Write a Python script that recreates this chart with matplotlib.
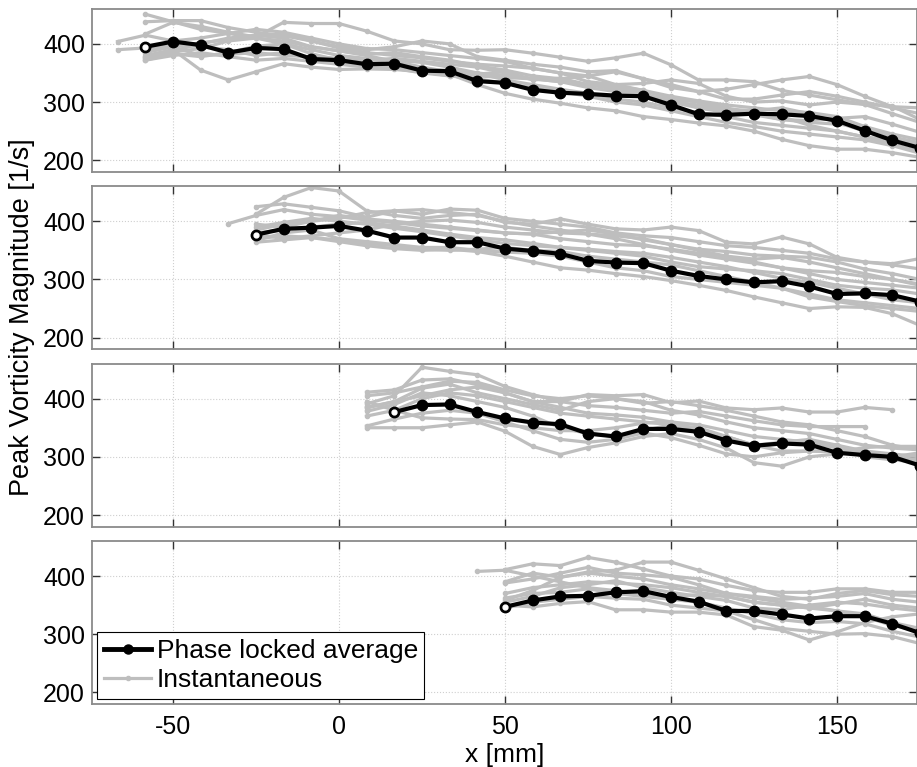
import numpy as np
import matplotlib.pyplot as plt

plt.rcParams['font.family'] = ['Liberation Sans', 'DejaVu Sans']
plt.rcParams['axes.unicode_minus'] = False

# streamwise stations [mm]
x_mm = [-66.7, -58.3, -50.0, -41.7, -33.3, -25.0, -16.7, -8.3, 0.0, 8.3, 16.7, 25.0, 33.3, 41.7,
        50.0, 58.3, 66.7, 75.0, 83.3, 91.7, 100.0, 108.3, 116.7, 125.0, 133.3, 141.7, 150.0,
        158.3, 166.7, 175.0]

# ---- panel 1 ----
avg1 = (-58.3, [395, 404, 398, 385, 393, 391, 374, 372, 365, 366, 354, 353, 336, 333, 321, 316, 314,
                311, 310, 295, 279, 278, 280, 279, 276, 268, 251, 234, 221])
inst1 = [
    (-58.3, [451, 438, 425, 418, 410, 405, 395, 388, 382, 385, 378, 372, 362, 355, 345, 340, 345, 352, 340, 325,
             318, 322, 330, 338, 344, 330, 310, 292, 290]),
    (-58.3, [438, 440, 440, 428, 420, 414, 405, 393, 385, 380, 376, 370, 365, 362, 358, 350, 335, 330, 332, 338,
             332, 310, 300, 302, 295, 300, 296, 280, 265]),
    (-58.3, [417, 437, 430, 420, 412, 437, 435, 435, 422, 405, 400, 390, 389, 390, 384, 377, 370, 376, 384, 364,
             338, 338, 335, 320, 312, 304, 296, 293, 270]),
    (-58.3, [377, 388, 400, 410, 415, 410, 395, 388, 380, 370, 360, 352, 345, 342, 340, 335, 325, 318, 310, 305,
             300, 290, 280, 270, 265, 262, 258, 240, 230]),
    (-58.3, [372, 383, 378, 385, 396, 400, 390, 380, 375, 372, 368, 360, 350, 338, 330, 322, 315, 305, 300, 290,
             282, 275, 265, 260, 255, 250, 240, 228, 215]),
    (-58.3, [380, 390, 355, 338, 352, 366, 360, 356, 357, 356, 352, 345, 340, 332, 325, 318, 310, 300, 295, 285,
             275, 265, 258, 250, 245, 240, 235, 225, 212]),
    (-58.3, [385, 395, 402, 407, 413, 417, 405, 395, 390, 395, 405, 400, 378, 372, 365, 360, 352, 354, 340, 330,
             318, 305, 305, 312, 318, 310, 300, 290, 280]),
    (-58.3, [375, 386, 392, 405, 410, 400, 383, 372, 370, 366, 360, 348, 330, 315, 305, 298, 290, 285, 275, 270,
             264, 259, 250, 236, 225, 219, 219, 213, 205]),
    (-58.3, [390, 395, 380, 382, 385, 380, 378, 375, 372, 375, 370, 365, 360, 350, 340, 335, 330, 328, 320, 305,
             290, 282, 278, 270, 268, 272, 275, 262, 248]),
    (-66.7, [404, 415, 405, 410, 418, 425, 420, 410, 400, 392, 390, 385, 380, 375, 370, 358, 350, 345, 330, 320,
             310, 302, 295, 290, 285, 282, 275, 258, 245, 235]),
    (-66.7, [390, 393, 400, 395, 390, 380, 385, 375, 370, 366, 360, 355, 355, 350, 345, 340, 338, 330, 325, 315,
             300, 295, 288, 285, 290, 280, 265, 250, 235, 222]),
    (-58.3, [372, 380, 385, 378, 372, 375, 370, 365, 360, 358, 350, 345, 348, 352, 338, 341, 330, 322, 312, 300,
             290, 285, 280, 275, 260, 250, 240, 235, 228]),
]

# ---- panel 2 ----
avg2 = (-25.0, [377, 387, 389, 392, 384, 372, 372, 364, 364, 353, 349, 344, 332, 329, 328, 315, 306, 300, 295,
                297, 288, 275, 276, 273, 262])
inst2 = [
    (-25.0, [412, 441, 458, 452, 418, 410, 405, 410, 412, 398, 395, 404, 395, 387, 385, 390, 384, 364, 361, 373,
             361, 338, 330, 327, 336]),
    (-25.0, [425, 430, 424, 418, 407, 418, 412, 421, 419, 405, 400, 395, 390, 380, 375, 372, 365, 358, 355, 350,
             345, 335, 330, 325, 318]),
    (-25.0, [395, 390, 400, 410, 404, 400, 395, 390, 385, 380, 378, 370, 365, 360, 358, 352, 345, 340, 335, 338,
             330, 320, 310, 300, 292]),
    (-25.0, [378, 370, 375, 380, 385, 395, 400, 402, 398, 390, 385, 380, 378, 375, 370, 360, 350, 340, 330, 320,
             310, 300, 295, 290, 285]),
    (-25.0, [367, 380, 385, 370, 365, 360, 355, 355, 350, 347, 345, 340, 330, 320, 315, 305, 300, 295, 290, 285,
             275, 265, 260, 255, 250]),
    (-25.0, [364, 368, 372, 365, 358, 353, 350, 352, 348, 340, 330, 320, 316, 310, 305, 298, 290, 281, 270, 260,
             250, 253, 252, 241, 221]),
    (-25.0, [380, 385, 390, 395, 398, 392, 385, 378, 372, 368, 362, 355, 350, 345, 340, 330, 322, 318, 315, 310,
             300, 290, 285, 282, 275]),
    (-25.0, [370, 375, 372, 368, 362, 358, 352, 350, 352, 355, 350, 348, 340, 335, 330, 325, 315, 305, 295, 285,
             270, 262, 255, 250, 245]),
    (-25.0, [385, 395, 400, 405, 415, 418, 420, 415, 410, 400, 392, 385, 378, 370, 360, 350, 342, 335, 328, 320,
             315, 312, 305, 300, 290]),
    (-25.0, [390, 398, 405, 400, 395, 388, 382, 375, 368, 362, 358, 355, 352, 348, 345, 338, 330, 322, 312, 302,
             295, 285, 275, 265, 260]),
    (-33.3, [396, 410, 420, 412, 408, 402, 398, 392, 388, 384, 380, 378, 382, 385, 378, 368, 360, 352, 348, 342,
             340, 338, 330, 318, 310, 300]),
]

# ---- panel 3 ----
avg3 = (16.7, [377, 389, 390, 377, 366, 359, 356, 340, 335, 348, 348, 343, 328, 319, 323, 321, 307, 303, 300, 285])
inst3 = [
    (8.3, [411, 415, 432, 434, 424, 410, 395, 395, 407, 405, 407, 393, 396, 384, 381, 384, 377, 377, 385, 381]),
    (8.3, [391, 405, 454, 447, 441, 421, 407, 395, 388, 385, 380, 375, 378, 370, 362, 355, 352, 352, 352]),
    (8.3, [384, 395, 418, 425, 410, 400, 390, 380, 395, 400, 395, 380, 372, 360, 350, 345, 340, 330, 320, 315, 312]),
    (8.3, [370, 380, 400, 410, 405, 395, 385, 375, 370, 365, 360, 355, 345, 335, 320, 310, 310, 308, 316, 318, 318]),
    (8.3, [353, 365, 375, 380, 375, 360, 345, 330, 325, 330, 341, 333, 320, 305, 300, 307, 310, 310, 305, 300, 307]),
    (8.3, [378, 390, 410, 405, 395, 385, 370, 350, 340, 335, 345, 355, 350, 335, 320, 325, 330, 320, 305, 300, 295]),
    (8.3, [385, 395, 405, 415, 420, 410, 395, 385, 375, 372, 368, 360, 345, 330, 318, 322, 325, 315, 300, 295, 290]),
    (8.3, [350, 350, 350, 355, 360, 344, 318, 304, 316, 324, 335, 340, 330, 315, 290, 284, 300, 305, 310, 300, 290]),
    (8.3, [395, 380, 367, 365, 364, 355, 350, 345, 345, 350, 358, 360, 355, 345, 335, 330, 325, 320, 310, 305, 300]),
    (8.3, [405, 410, 420, 430, 428, 415, 405, 400, 405, 400, 392, 395, 388, 380, 370, 360, 355, 345, 335, 320, 312]),
]

# ---- panel 4 ----
avg4 = (50.0, [347, 358, 365, 366, 372, 374, 364, 356, 340, 340, 334, 327, 331, 331, 318, 302])
inst4 = [
    (50.0, [411, 421, 418, 432, 424, 412, 400, 395, 384, 375, 372, 372, 378, 378, 372, 372]),
    (50.0, [390, 405, 398, 407, 410, 424, 424, 410, 395, 380, 365, 360, 370, 375, 368, 365]),
    (50.0, [358, 375, 398, 405, 400, 395, 385, 378, 370, 365, 360, 362, 365, 370, 360, 355]),
    (50.0, [355, 365, 380, 385, 392, 380, 372, 365, 358, 345, 342, 350, 355, 352, 345, 340]),
    (50.0, [350, 347, 353, 356, 342, 342, 338, 338, 333, 313, 307, 290, 304, 320, 330, 335]),
    (50.0, [362, 370, 372, 378, 370, 365, 360, 355, 345, 335, 325, 320, 322, 318, 305, 295]),
    (50.0, [345, 355, 360, 365, 362, 360, 350, 345, 340, 325, 310, 305, 300, 301, 296, 284]),
    (50.0, [388, 395, 405, 415, 405, 402, 398, 385, 370, 362, 355, 348, 340, 335, 320, 310]),
    (41.7, [408, 410, 400, 390, 380, 375, 370, 365, 368, 365, 355, 350, 345, 352, 360, 350, 345]),
    (50.0, [370, 380, 385, 390, 388, 385, 380, 372, 365, 355, 350, 345, 340, 330, 315, 305]),
]

panels = [(avg1, inst1), (avg2, inst2), (avg3, inst3), (avg4, inst4)]


def xs(start, vals):
    i = x_mm.index(start)
    return x_mm[i:i + len(vals)]


fig, axes = plt.subplots(4, 1, figsize=(9.17, 7.67), dpi=100, sharex=True)
plt.subplots_adjust(left=0.1003, right=1.0, top=0.9883, bottom=0.0821, hspace=0.089)

gray = '#bebebe'
for ax, (avg, inst) in zip(axes, panels):
    for start, vals in inst:
        ax.plot(xs(start, vals), vals, color=gray, linewidth=2.3, marker='o', markersize=3,
                markerfacecolor=gray, markeredgecolor=gray, zorder=2)
    start, vals = avg
    ax.plot(xs(start, vals), vals, color='k', linewidth=3, marker='o', markersize=7.5,
            markerfacecolor='k', markeredgecolor='k', zorder=3)
    # first station drawn as ring
    ax.plot(start, vals[0], linestyle='none', marker='o', markersize=3.5, markerfacecolor='white',
            markeredgecolor='white', zorder=4)

    ax.set_xlim(-74.4, 174.1)
    ax.set_ylim(180, 460)
    ax.set_yticks([200, 300, 400])
    ax.set_xticks([-50, 0, 50, 100, 150])
    ax.grid(True, linestyle=':', color='#cfcfcf', linewidth=0.8)
    ax.set_axisbelow(True)
    ax.tick_params(direction='in', top=True, right=True, length=6, width=1, color='#333333',
                   labelsize=18)
    ax.tick_params(axis='y', pad=5)
    ax.tick_params(axis='x', pad=8)
    for sp in ax.spines.values():
        sp.set_color('#8a8a8a')
        sp.set_linewidth(1.3)

axes[-1].set_xlabel('x [mm]', fontsize=19, labelpad=3)
fig.text(0.024, 0.586, 'Peak Vorticity Magnitude [1/s]', rotation=90, fontsize=19.5,
         ha='center', va='center')

# legend proxies
h1, = axes[-1].plot([], [], color='k', linewidth=3.5, marker='o', markersize=6.5)
h2, = axes[-1].plot([], [], color=gray, linewidth=2.3, marker='o', markersize=3)
leg = axes[-1].legend([h1, h2], ['Phase locked average', 'Instantaneous'], loc='lower left',
                      fontsize=19, fancybox=False, edgecolor='k', framealpha=1,
                      borderaxespad=0.2, handlelength=1.8, handletextpad=0.2,
                      borderpad=0.25, labelspacing=0.2)
leg.get_frame().set_linewidth(0.8)

plt.savefig('out.png', dpi=100)
